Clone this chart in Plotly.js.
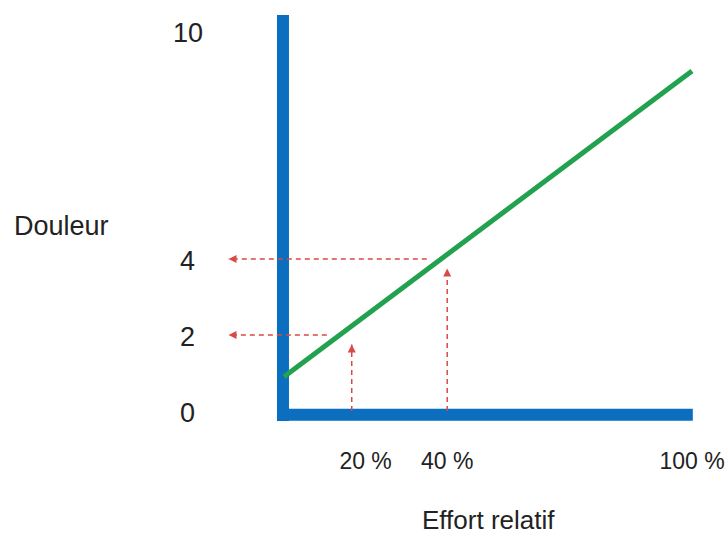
<!DOCTYPE html>
<html>
<head>
<meta charset="utf-8">
<script src="https://cdn.plot.ly/plotly-3.0.1.min.js"></script>
<style>html,body{margin:0;padding:0;background:#fff;}#chart{width:727px;height:537px;}</style>
</head>
<body>
<div id="chart"></div>
<script>
// ---- data ----
const yTickVals = [0, 2, 4, 10];
const yTickText = ['0', '2', '4', '10'];
const xTickVals = [20, 40, 100];
const xTickText = ['20 %', '40 %', '100 %'];

// green line: douleur vs effort relatif
const effortX = [0, 100];
const douleurY = [0.9, 8.95];

// reading guides (dashed red arrows)
const readX = [16.6, 40];          // x of vertical guides
const readTipY = [1.75, 3.75];     // tip height of vertical guides
const readY = [2, 4];              // y of horizontal guides
const readStartX = [10.5, 35];     // right end of horizontal guides
const readTipX = -13.6;            // tip of horizontal guides (left)

// axis bars
const axisVX = -0.25, axisVY = [-0.26, 10.42];
const axisHY = -0.1, axisHX = [-1.7, 100.2];

const red = '#d84a48', blue = '#0b6ebf', green = '#22a24f';
const font = 'Liberation Sans, Arial, sans-serif';

const traces = [];
// blue axes
traces.push({x: [axisVX, axisVX], y: axisVY, mode: 'lines', line: {color: blue, width: 12}, hoverinfo: 'skip'});
traces.push({x: axisHX, y: [axisHY, axisHY], mode: 'lines', line: {color: blue, width: 12}, hoverinfo: 'skip'});

// dashed guides
for (let i = 0; i < readX.length; i++) {
  traces.push({x: [readX[i], readX[i]], y: [0, readTipY[i]], mode: 'lines',
    line: {color: red, width: 1.5, dash: '5px,4px'}, hoverinfo: 'skip'});
  traces.push({x: [readX[i]], y: [readTipY[i]], mode: 'markers', cliponaxis: false,
    marker: {symbol: 'arrow-up', size: 8, color: red}, hoverinfo: 'skip'});
  traces.push({x: [readStartX[i], readTipX], y: [readY[i], readY[i]], mode: 'lines',
    line: {color: red, width: 1.5, dash: '5px,4px'}, hoverinfo: 'skip'});
  traces.push({x: [readTipX], y: [readY[i]], mode: 'markers', cliponaxis: false,
    marker: {symbol: 'arrow-left', size: 8, color: red}, hoverinfo: 'skip'});
}

// green line
traces.push({x: effortX, y: douleurY, mode: 'lines', line: {color: green, width: 5}, hoverinfo: 'skip'});

const annotations = yTickVals.map((v, i) => ({
  xref: 'paper', yref: 'y', x: -0.0667, y: v, yshift: -2,
  text: yTickText[i], showarrow: false, xanchor: 'center', yanchor: 'middle',
  font: {family: font, size: 27, color: '#222'}
}));
annotations.push({xref: 'paper', yref: 'paper', x: -0.331, y: 0.4857, text: 'Douleur',
  showarrow: false, xanchor: 'center', yanchor: 'middle', font: {family: font, size: 27, color: '#222'}});
annotations.push({xref: 'paper', yref: 'paper', x: 0.560, y: -0.215, text: 'Effort relatif',
  showarrow: false, xanchor: 'center', yanchor: 'middle', font: {family: font, size: 26, color: '#222'}});

const layout = {
  width: 727, height: 537,
  margin: {l: 220, r: 27, t: 10, b: 107},
  paper_bgcolor: '#fff', plot_bgcolor: '#fff',
  showlegend: false,
  font: {family: font, color: '#222'},
  xaxis: {range: [-15.686, 101.961], showgrid: false, zeroline: false, showline: false,
    tickvals: xTickVals, ticktext: xTickText, ticks: '', ticklabelstandoff: 15,
    ticklabeloverflow: 'allow',
    tickfont: {family: font, size: 23, color: '#222'}, fixedrange: true},
  yaxis: {range: [-0.5, 10.553], showgrid: false, zeroline: false, showline: false,
    showticklabels: false, ticks: '', fixedrange: true},
  annotations: annotations
};

Plotly.newPlot('chart', traces, layout, {displayModeBar: false, staticPlot: true});
</script>
</body>
</html>
